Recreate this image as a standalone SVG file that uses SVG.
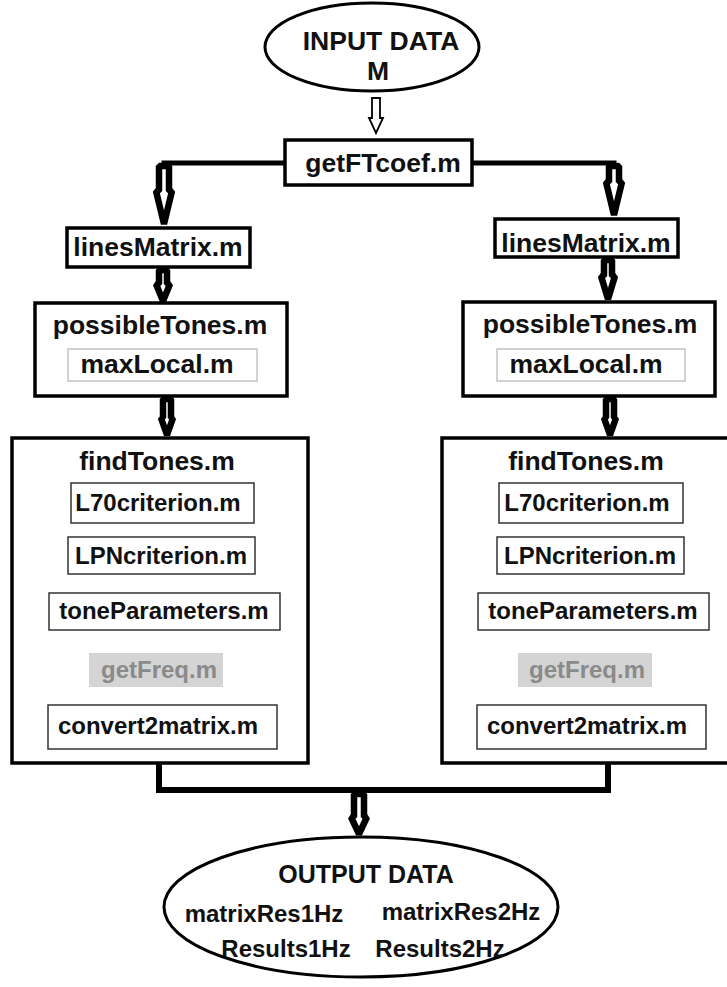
<svg xmlns="http://www.w3.org/2000/svg" width="727" height="987" viewBox="0 0 727 987">
<style>
text{font-family:"Liberation Sans",Arial,sans-serif;font-weight:bold;fill:#111;text-anchor:middle}
.t{font-size:26.5px}
.s{font-size:24px}
.o{font-size:25px}
.box{fill:#fff;stroke:#000;stroke-width:3.5}
.big{fill:#fff;stroke:#000;stroke-width:3.5}
.inner{fill:#fff;stroke:#333;stroke-width:1.5}
.light{fill:#fff;stroke:#c4c4c4;stroke-width:1.5}
.gray{fill:#d4d4d4;stroke:none}
.gt{fill:#8a8a8a}
.line{fill:none;stroke:#000;stroke-width:5;stroke-linecap:square}
.arr{fill:#fff;stroke:#000;stroke-width:6.5;stroke-linejoin:bevel}
.arrs{fill:#fff;stroke:#000;stroke-width:1.8}
</style>
<rect width="727" height="987" fill="#fff"/>
<g id="connectors">
<polyline class="line" points="285,163 164,163"/>
<polyline class="line" points="472,163 614,163"/>
<polygon class="arrs" points="372,98 380,98 380,118 383,118 376,133 369,118 372,118"/>
<polygon class="arr" points="159,166 169,166 169,191 172,191 164,224 156,191 159,191"/>
<polygon class="arr" points="609,166 619,166 619,182 622,182 614,215 606,182 609,182"/>
<polygon class="arr" points="159,270 167,270 167,284 170,284 163,301 156,284 159,284"/>
<polygon class="arr" points="604,260 612,260 612,276 615,276 608,299 601,276 604,276"/>
<polygon class="arr" points="163,399 171,399 171,418 173,418 167,435 161,418 163,418"/>
<polygon class="arr" points="606,399 614,399 614,418 616,418 610,435 604,418 606,418"/>
<polyline class="line" points="159,764 159,790 608,790 608,764" style="stroke-width:6;stroke-linecap:butt"/>
<polygon class="arr" points="354,794 364,794 364,817 367,817 359,834 351,817 354,817"/>
</g>
<g id="input">
<ellipse cx="372" cy="47" rx="107" ry="44" fill="#fff" stroke="#000" stroke-width="3"/>
<text class="t" x="381" y="50">INPUT DATA</text>
<text class="t" x="378" y="80">M</text>
</g>
<g id="getFTcoef">
<rect class="box" x="285" y="140" width="187" height="45"/>
<text class="t" x="383" y="172">getFTcoef.m</text>
</g>
<g id="linesMatrix-left">
<rect class="box" x="67" y="228" width="183" height="39"/>
<text class="t" x="158" y="256">linesMatrix.m</text>
</g>
<g id="linesMatrix-right">
<rect class="box" x="495" y="219" width="183" height="38"/>
<text class="t" x="586" y="252">linesMatrix.m</text>
</g>
<g id="possibleTones-left">
<rect class="box" x="35" y="303" width="252" height="93"/>
<text class="t" x="160" y="334">possibleTones.m</text>
<rect class="light" x="68" y="349" width="189" height="32"/>
<text class="t" x="157" y="373">maxLocal.m</text>
</g>
<g id="possibleTones-right">
<rect class="box" x="463" y="302" width="252" height="94"/>
<text class="t" x="590" y="333">possibleTones.m</text>
<rect class="light" x="497" y="349" width="188" height="32"/>
<text class="t" x="586" y="373">maxLocal.m</text>
</g>
<g id="findTones-left">
<rect class="big" x="12" y="438" width="296" height="325"/>
<text class="t" x="157" y="470">findTones.m</text>
<rect class="inner" x="71" y="483" width="183" height="40"/>
<text class="s" x="158" y="511">L70criterion.m</text>
<rect class="inner" x="68" y="537" width="187" height="37"/>
<text class="s" x="161" y="564">LPNcriterion.m</text>
<rect class="inner" x="49" y="593" width="231" height="37"/>
<text class="s" x="164" y="619">toneParameters.m</text>
<rect class="gray" x="89" y="653" width="134" height="34"/>
<text class="s gt" x="159" y="678">getFreq.m</text>
<rect class="inner" x="48" y="705" width="229" height="44"/>
<text class="s" x="158" y="734">convert2matrix.m</text>
</g>
<g id="findTones-right">
<rect class="big" x="442" y="438" width="290" height="325"/>
<text class="t" x="586" y="470">findTones.m</text>
<rect class="inner" x="499" y="483" width="184" height="40"/>
<text class="s" x="587" y="511">L70criterion.m</text>
<rect class="inner" x="497" y="537" width="187" height="37"/>
<text class="s" x="590" y="564">LPNcriterion.m</text>
<rect class="inner" x="478" y="593" width="231" height="37"/>
<text class="s" x="593" y="619">toneParameters.m</text>
<rect class="gray" x="518" y="653" width="134" height="34"/>
<text class="s gt" x="587" y="678">getFreq.m</text>
<rect class="inner" x="477" y="705" width="229" height="44"/>
<text class="s" x="587" y="734">convert2matrix.m</text>
</g>
<g id="output">
<ellipse cx="361" cy="907" rx="197" ry="70" fill="#fff" stroke="#000" stroke-width="3"/>
<text class="o" x="366" y="883">OUTPUT DATA</text>
<text class="s" x="264" y="922">matrixRes1Hz</text>
<text class="s" x="461" y="920">matrixRes2Hz</text>
<text class="s" x="286" y="957">Results1Hz</text>
<text class="s" x="440" y="957">Results2Hz</text>
</g>
</svg>
